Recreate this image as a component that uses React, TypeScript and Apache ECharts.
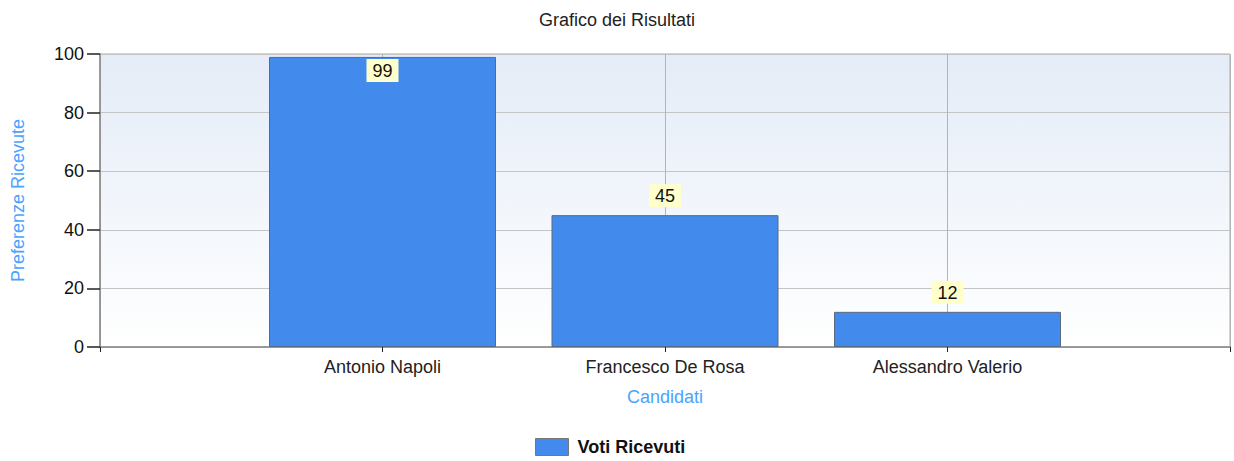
import React, { useEffect, useRef } from "react";
import * as echarts from "echarts";

const candidates = ["Antonio Napoli", "Francesco De Rosa", "Alessandro Valerio"];
const votes = [99, 45, 12];
const seriesName = "Voti Ricevuti";
const titleText = "Grafico dei Risultati";
const xName = "Candidati";
const yName = "Preferenze Ricevute";
const yTicks = { min: 0, max: 100, interval: 20 };

const FONT = "Liberation Sans, Arial, sans-serif";

export default function App() {
  const ref = useRef<HTMLDivElement>(null);
  useEffect(() => {
    document.body.style.margin = "0";
    const chart = echarts.init(ref.current!, null, { renderer: "svg" });
    const cats = ["", ...candidates, ""];
    const labelStyle = {
      show: true,
      backgroundColor: "#ffffcc",
      padding: [3, 6, 2, 6],
      color: "#111",
      fontSize: 18,
      fontFamily: FONT,
    };
    const data: any[] = ["-"];
    votes.forEach((v) => {
      const inside = v > 90;
      data.push({
        value: v,
        label: inside
          ? { ...labelStyle, position: "insideTop", distance: 2 }
          : { ...labelStyle, position: "top", distance: 8 },
      });
    });
    data.push("-");
    chart.setOption({
      animation: false,
      backgroundColor: "#ffffff",
      title: {
        text: titleText,
        left: "center",
        top: 6,
        textStyle: { fontSize: 18, fontWeight: "normal", color: "#222", fontFamily: FONT },
      },
      legend: {
        top: 433,
        left: 530,
        itemWidth: 33,
        itemHeight: 17,
        itemGap: 8,
        icon: "rect",
        data: [{ name: seriesName, itemStyle: { borderColor: "#777", borderWidth: 1 } }],
        textStyle: { fontSize: 18, fontWeight: "bold", color: "#111", fontFamily: FONT, padding: [0, 0, 0, 4] },
      },
      grid: {
        left: 100,
        right: 4,
        top: 54,
        bottom: 114,
        show: true,
        borderColor: "#aaa",
        borderWidth: 1,
        backgroundColor: new echarts.graphic.LinearGradient(0, 0, 0, 1, [
          { offset: 0, color: "#e4ecf7" },
          { offset: 1, color: "#ffffff" },
        ]),
      },
      xAxis: {
        type: "category",
        data: cats,
        boundaryGap: false,
        name: xName,
        nameLocation: "middle",
        nameGap: 41,
        nameTextStyle: { color: "#4aa3ff", fontSize: 18, fontFamily: FONT },
        axisLine: { lineStyle: { color: "#888", width: 1.5 } },
        axisTick: { length: 5, lineStyle: { color: "#222" } },
        axisLabel: { margin: 11, color: "#222", fontSize: 18, fontFamily: FONT },
        splitLine: { show: true, lineStyle: { color: "#b4b4b4" } },
      },
      yAxis: {
        type: "value",
        min: yTicks.min,
        max: yTicks.max,
        interval: yTicks.interval,
        name: yName,
        nameLocation: "middle",
        nameGap: 73,
        nameTextStyle: { color: "#4aa3ff", fontSize: 18, fontFamily: FONT },
        axisLine: { show: true, lineStyle: { color: "#888", width: 1.5 } },
        axisTick: { show: true, length: 13, lineStyle: { color: "#222", width: 1.5 } },
        axisLabel: { margin: 16, color: "#111", fontSize: 18, fontFamily: FONT },
        splitLine: { show: true, lineStyle: { color: "#c4c4c4" } },
      },
      series: [
        {
          name: seriesName,
          type: "bar",
          data,
          barWidth: 227,
          itemStyle: { color: "#428bed", borderColor: "#5a6a80", borderWidth: 1 },
        },
      ],
    });
    return () => chart.dispose();
  }, []);
  return <div ref={ref} style={{ width: 1234, height: 461 }} />;
}
